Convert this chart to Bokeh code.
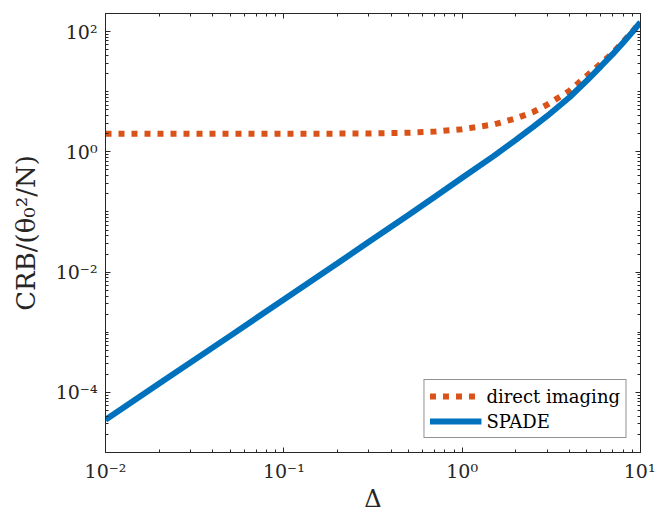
from bokeh.plotting import figure
from bokeh.models import LogAxis, FixedTicker
from bokeh.embed import file_html
from bokeh.resources import INLINE

# ---- data ----
delta = [0.01, 0.02, 0.05, 0.1, 0.2, 0.3, 0.5, 0.7, 1.0, 1.5, 2.0, 2.5, 3.0,
         4.0, 5.0, 6.0, 7.0, 8.0, 9.0, 10.0]
crb_direct = [2.0, 2.0, 2.0, 2.0, 2.01, 2.02, 2.08, 2.17, 2.38, 2.85, 3.6, 4.6,
              6.1, 10.4, 18.5, 29.5, 44.5, 68.0, 100.0, 145.0]
crb_spade = [3.5e-5, 1.4e-4, 8.7e-4, 3.5e-3, 1.4e-2, 3.2e-2, 8.9e-2, 0.178,
             0.37, 0.85, 1.58, 2.6, 3.95, 8.1, 15.3, 26.5, 42.5, 66.0, 98.0, 143.0]

x_major = [1e-2, 1e-1, 1e0, 1e1]
x_labels = ["10⁻²", "10⁻¹", "10⁰", "10¹"]
y_major = [1e-4, 1e-2, 1e0, 1e2]
y_labels = ["10⁻⁴", "10⁻²", "10⁰", "10²"]

series_names = ["direct imaging", "SPADE"]
series_colors = ["#D95319", "#0072BD"]
x_title = "Δ"
y_title = "CRB/(θ₀²/N)"

x_minor = [k * 10.0 ** n for n in (-2, -1, 0) for k in range(2, 10)]
y_minor = [k * 10.0 ** n for n in range(-5, 3) for k in range(1, 10)
           if (k * 10.0 ** n) <= 200 and not (k == 1 and n % 2 == 0)]

FONT = "DejaVu Serif"
AX = "#262626"

p = figure(width=655, height=515, x_axis_type="log", y_axis_type="log",
           x_range=(0.01, 10), y_range=(1e-5, 200),
           output_backend="svg", toolbar_location=None,
           min_border_left=105, min_border_right=15, min_border_top=13,
           min_border_bottom=62)

p.xgrid.visible = False
p.ygrid.visible = False
p.outline_line_color = AX
p.outline_line_width = 1
p.background_fill_color = "white"
p.border_fill_color = "white"

p.line(delta, crb_direct, line_color=series_colors[0], line_width=6,
       line_dash="6 7", legend_label=series_names[0])
p.line(delta, crb_spade, line_color=series_colors[1], line_width=6,
       legend_label=series_names[1])


def style(ax):
    ax.axis_line_color = AX
    ax.axis_line_width = 1
    ax.major_tick_line_color = AX
    ax.minor_tick_line_color = AX
    ax.major_tick_in = 5
    ax.major_tick_out = 0
    ax.minor_tick_in = 3
    ax.minor_tick_out = 0
    ax.major_label_text_font = FONT
    ax.major_label_text_color = AX
    ax.axis_label_text_font = FONT
    ax.axis_label_text_font_style = "normal"
    ax.axis_label_text_color = AX


xa = p.xaxis[0]
xa.ticker = FixedTicker(ticks=x_major, minor_ticks=x_minor)
style(xa)
xa.major_label_overrides = dict(zip(x_major, x_labels))
xa.major_label_text_font_size = "19px"
xa.major_label_standoff = 7
xa.axis_label = x_title
xa.axis_label_text_font_size = "24px"
xa.axis_label_standoff = 0

ya = p.yaxis[0]
ya.ticker = FixedTicker(ticks=y_major, minor_ticks=y_minor)
style(ya)
ya.major_label_overrides = dict(zip(y_major, y_labels))
ya.major_label_text_font_size = "19px"
ya.major_label_standoff = 8
ya.axis_label = y_title
ya.axis_label_text_font_size = "26px"
ya.axis_label_standoff = 12

top = LogAxis(ticker=FixedTicker(ticks=x_major, minor_ticks=x_minor))
style(top)
top.major_label_overrides = {t: "" for t in x_major}
top.major_label_text_font_size = "1px"
top.major_label_standoff = 0
p.add_layout(top, "above")

right = LogAxis(ticker=FixedTicker(ticks=y_major, minor_ticks=y_minor))
style(right)
right.major_label_overrides = {t: "" for t in y_major}
right.major_label_text_font_size = "1px"
right.major_label_standoff = 0
p.add_layout(right, "right")

lg = p.legend[0]
lg.location = "bottom_right"
lg.margin = 14
lg.padding = 5
lg.spacing = 3
lg.glyph_width = 52
lg.glyph_height = 22
lg.label_height = 22
lg.label_standoff = 5
lg.label_text_font = FONT
lg.label_text_font_size = "18px"
lg.label_text_color = "#000000"
lg.border_line_color = AX
lg.border_line_width = 1
lg.background_fill_color = "white"
lg.background_fill_alpha = 1.0

open("out.html", "w").write(file_html(p, INLINE))
